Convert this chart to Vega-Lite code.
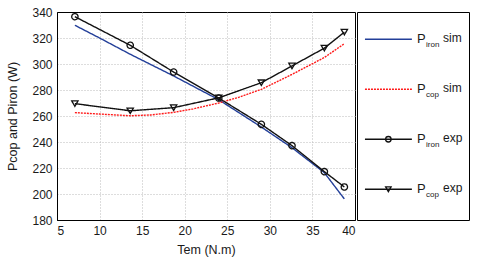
{
  "$schema": "https://vega.github.io/schema/vega-lite/v6.json",
  "background": "white",
  "padding": {"left": 6, "top": 5, "right": 5, "bottom": 5},
  "spacing": 0,
  "config": {
    "font": "Liberation Sans",
    "view": {"stroke": "black", "strokeWidth": 1},
    "axis": {"labelFont": "Liberation Sans", "titleFont": "Liberation Sans", "labelColor": "#1a1a1a", "titleColor": "#1a1a1a", "titleFontWeight": "normal", "domainColor": "black", "ticks": false, "labelPadding": 5, "labelFontSize": 12, "titleFontSize": 12.5, "gridColor": "#bbbbbb", "gridDash": [1, 2], "gridWidth": 1}
  },
  "datasets": {
    "curves": [
      {"T": 7.1, "P": 329.8, "series": "Piron sim"},
      {"T": 10.0, "P": 320.0, "series": "Piron sim"},
      {"T": 13.6, "P": 307.5, "series": "Piron sim"},
      {"T": 18.7, "P": 290.8, "series": "Piron sim"},
      {"T": 24.0, "P": 272.5, "series": "Piron sim"},
      {"T": 29.0, "P": 251.5, "series": "Piron sim"},
      {"T": 32.6, "P": 235.6, "series": "Piron sim"},
      {"T": 36.4, "P": 216.4, "series": "Piron sim"},
      {"T": 38.75, "P": 196.2, "series": "Piron sim"},
      {"T": 7.1, "P": 262.6, "series": "Pcop sim"},
      {"T": 10.0, "P": 261.5, "series": "Pcop sim"},
      {"T": 13.6, "P": 260.2, "series": "Pcop sim"},
      {"T": 16.0, "P": 260.8, "series": "Pcop sim"},
      {"T": 18.7, "P": 262.8, "series": "Pcop sim"},
      {"T": 21.0, "P": 265.5, "series": "Pcop sim"},
      {"T": 24.0, "P": 270.0, "series": "Pcop sim"},
      {"T": 26.4, "P": 274.5, "series": "Pcop sim"},
      {"T": 29.0, "P": 280.5, "series": "Pcop sim"},
      {"T": 32.6, "P": 292.0, "series": "Pcop sim"},
      {"T": 36.4, "P": 305.0, "series": "Pcop sim"},
      {"T": 38.75, "P": 315.6, "series": "Pcop sim"},
      {"T": 7.1, "P": 336.4, "series": "Piron exp"},
      {"T": 13.6, "P": 314.4, "series": "Piron exp"},
      {"T": 18.7, "P": 293.8, "series": "Piron exp"},
      {"T": 24.0, "P": 273.8, "series": "Piron exp"},
      {"T": 29.0, "P": 253.6, "series": "Piron exp"},
      {"T": 32.6, "P": 237.2, "series": "Piron exp"},
      {"T": 36.4, "P": 217.2, "series": "Piron exp"},
      {"T": 38.75, "P": 205.4, "series": "Piron exp"},
      {"T": 7.1, "P": 269.5, "series": "Pcop exp"},
      {"T": 13.6, "P": 264.0, "series": "Pcop exp"},
      {"T": 18.7, "P": 266.4, "series": "Pcop exp"},
      {"T": 24.0, "P": 274.0, "series": "Pcop exp"},
      {"T": 29.0, "P": 285.6, "series": "Pcop exp"},
      {"T": 32.6, "P": 298.5, "series": "Pcop exp"},
      {"T": 36.4, "P": 312.2, "series": "Pcop exp"},
      {"T": 38.75, "P": 324.5, "series": "Pcop exp"}
    ],
    "legend": [
      {"series": "Piron sim", "sub": "iron", "suffix": "sim"},
      {"series": "Pcop sim", "sub": "cop", "suffix": "sim"},
      {"series": "Piron exp", "sub": "iron", "suffix": "exp"},
      {"series": "Pcop exp", "sub": "cop", "suffix": "exp"}
    ]
  },
  "hconcat": [
    {
      "width": 298,
      "height": 208,
      "data": {"name": "curves"},
      "encoding": {
        "x": {"field": "T", "type": "quantitative", "scale": {"domain": [5, 40], "nice": false}, "axis": {"values": [5, 10, 15, 20, 25, 30, 35, 40], "title": "Tem (N.m)", "titlePadding": 7, "gridOpacity": {"condition": {"test": "datum.value <= 5 || datum.value >= 40", "value": 0}, "value": 1}}},
        "y": {"field": "P", "type": "quantitative", "scale": {"domain": [180, 340], "nice": false, "zero": false}, "axis": {"values": [180, 200, 220, 240, 260, 280, 300, 320, 340], "title": "Pcop and Piron (W)", "titlePadding": 12, "gridOpacity": {"condition": {"test": "datum.value <= 180 || datum.value >= 340", "value": 0}, "value": 1}}},
        "color": {"field": "series", "type": "nominal", "scale": {"domain": ["Piron sim", "Pcop sim", "Piron exp", "Pcop exp"], "range": ["#233f99", "#ff1a1a", "#111111", "#111111"]}, "legend": null},
        "strokeDash": {"field": "series", "type": "nominal", "scale": {"domain": ["Piron sim", "Pcop sim", "Piron exp", "Pcop exp"], "range": [[1, 0], [2, 1], [1, 0], [1, 0]]}, "legend": null}
      },
      "layer": [
        {
          "mark": {"type": "line", "strokeWidth": 1.4}
        },
        {
          "transform": [{"filter": "indexof(datum.series, 'exp') >= 0"}],
          "mark": {"type": "point", "filled": false, "strokeWidth": 1.3, "size": 40, "opacity": 1},
          "encoding": {
            "strokeDash": {"value": [1, 0]},
            "shape": {"field": "series", "type": "nominal", "scale": {"domain": ["Piron exp", "Pcop exp"], "range": ["circle", "triangle-down"]}, "legend": null}
          }
        }
      ]
    },
    {
      "width": 112,
      "height": 208,
      "data": {"name": "legend"},
      "encoding": {
        "y": {"field": "series", "type": "nominal", "sort": null, "scale": {"type": "point", "domain": ["Piron sim", "Pcop sim", "Piron exp", "Pcop exp"], "padding": 0.58, "align": 0.47}, "axis": null}
      },
      "layer": [
        {
          "mark": {"type": "rule", "strokeWidth": 1.4},
          "encoding": {
            "x": {"datum": 0.071, "type": "quantitative", "scale": {"domain": [0, 1], "nice": false}, "axis": null},
            "x2": {"datum": 0.49},
            "color": {"field": "series", "type": "nominal", "scale": {"domain": ["Piron sim", "Pcop sim", "Piron exp", "Pcop exp"], "range": ["#233f99", "#ff1a1a", "#111111", "#111111"]}, "legend": null},
            "strokeDash": {"field": "series", "type": "nominal", "scale": {"domain": ["Piron sim", "Pcop sim", "Piron exp", "Pcop exp"], "range": [[1, 0], [2, 1], [1, 0], [1, 0]]}, "legend": null}
          }
        },
        {
          "transform": [{"filter": "indexof(datum.series, 'exp') >= 0"}],
          "mark": {"type": "point", "filled": false, "strokeWidth": 1.3, "size": 30, "opacity": 1, "color": "#111111"},
          "encoding": {
            "x": {"datum": 0.28, "type": "quantitative"},
            "shape": {"field": "series", "type": "nominal", "scale": {"domain": ["Piron exp", "Pcop exp"], "range": ["circle", "triangle-down"]}, "legend": null}
          }
        },
        {
          "mark": {"type": "text", "align": "left", "baseline": "middle", "fontSize": 13, "font": "Liberation Sans", "color": "#1a1a1a"},
          "encoding": {"x": {"datum": 0.536, "type": "quantitative"}, "text": {"value": "P"}}
        },
        {
          "mark": {"type": "text", "align": "left", "baseline": "middle", "fontSize": 8, "dx": 9, "dy": 6, "font": "Liberation Sans", "color": "#1a1a1a"},
          "encoding": {"x": {"datum": 0.536, "type": "quantitative"}, "text": {"field": "sub"}}
        },
        {
          "mark": {"type": "text", "align": "left", "baseline": "middle", "fontSize": 12, "dx": 26, "dy": -1, "font": "Liberation Sans", "color": "#1a1a1a"},
          "encoding": {"x": {"datum": 0.536, "type": "quantitative"}, "text": {"field": "suffix"}}
        }
      ]
    }
  ]
}
